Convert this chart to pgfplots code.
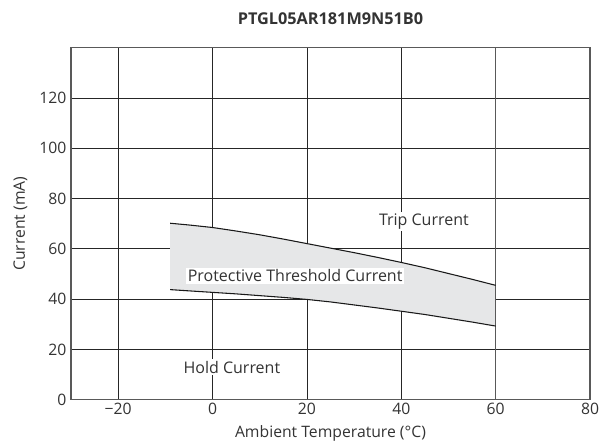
\documentclass[border=0pt]{standalone}
\usepackage{fontspec}
\setmainfont{Open Sans}
\usepackage{pgfplots}
\pgfplotsset{compat=1.18}
\definecolor{bandgray}{HTML}{E6E7E8}
\definecolor{txt}{HTML}{333333}
\begin{document}
\begin{tikzpicture}
\path[use as bounding box] (-53.25pt,-34.7pt) rectangle (407.25pt,299.8pt);
\begin{axis}[
  scale only axis,
  width=389.25pt, height=264pt,
  xmin=-30, xmax=80, ymin=0, ymax=140,
  xtick={-20,0,20,40,60,80},
  ytick={0,20,40,60,80,100,120},
  grid=major,
  major grid style={line width=0.6pt, color=black!85},
  axis line style={line width=0.8pt, color=black!65},
  tick style={draw=none},
  every tick label/.append style={font=\fontsize{11.8}{13}\selectfont, text=txt},
  xticklabel style={yshift=1pt},
  /pgf/number format/assume math mode=true,
  xticklabel={\ifdim\tick pt<0pt −\pgfmathparse{abs(\tick)}\pgfmathprintnumber{\pgfmathresult}\else\pgfmathprintnumber{\tick}\fi},
  xlabel={Ambient Temperature (°C)},
  ylabel={Current (mA)},
  label style={font=\fontsize{11.8}{13}\selectfont, text=txt},
  xlabel style={yshift=-1pt},
  ylabel style={yshift=2pt},
  title={\bfseries PTGL05AR181M9N51B0},
  title style={font=\fontsize{12.2}{14}\selectfont, text=txt, yshift=8pt},
  clip=false,
]
\addplot[fill=bandgray, draw=none] coordinates {
 (-9,70.2) (-5,69.5) (0,68.5) (5,67.1) (10,65.6) (15,63.9) (20,62.1) (25,60.3) (30,58.5) (35,56.6) (40,54.6) (45,52.5) (50,50.2) (55,47.9) (60,45.5)
 (60,29.3) (55,30.9) (50,32.4) (45,33.9) (40,35.2) (35,36.5) (30,37.7) (25,38.9) (20,39.9) (15,40.7) (10,41.4) (5,42.1) (0,42.7) (-5,43.3) (-9,43.8)
} -- cycle;
\draw[line width=0.8pt, color=black!65] (axis cs:60,0) -- (axis cs:60,140);
\addplot[draw=black!90, line width=0.8pt] coordinates {
 (-9,70.2) (-5,69.5) (0,68.5) (5,67.1) (10,65.6) (15,63.9) (20,62.1) (25,60.3) (30,58.5) (35,56.6) (40,54.6) (45,52.5) (50,50.2) (55,47.9) (60,45.5)
};
\addplot[draw=black!90, line width=0.8pt] coordinates {
 (-9,43.8) (-5,43.3) (0,42.7) (5,42.1) (10,41.4) (15,40.7) (20,39.9) (25,38.9) (30,37.7) (35,36.5) (40,35.2) (45,33.9) (50,32.4) (55,30.9) (60,29.3)
};
\node[fill=white, inner sep=1.5pt, text=txt, font=\fontsize{12}{14}\selectfont] at (axis cs:44.8,70.9) {Trip Current};
\node[fill=white, inner sep=1.5pt, text=txt, font=\fontsize{12}{14}\selectfont] at (axis cs:17.5,49.3) {Protective Threshold Current};
\node[fill=white, inner sep=1.5pt, text=txt, font=\fontsize{12}{14}\selectfont] at (axis cs:4.1,13) {Hold Current};
\end{axis}
\end{tikzpicture}
\end{document}
